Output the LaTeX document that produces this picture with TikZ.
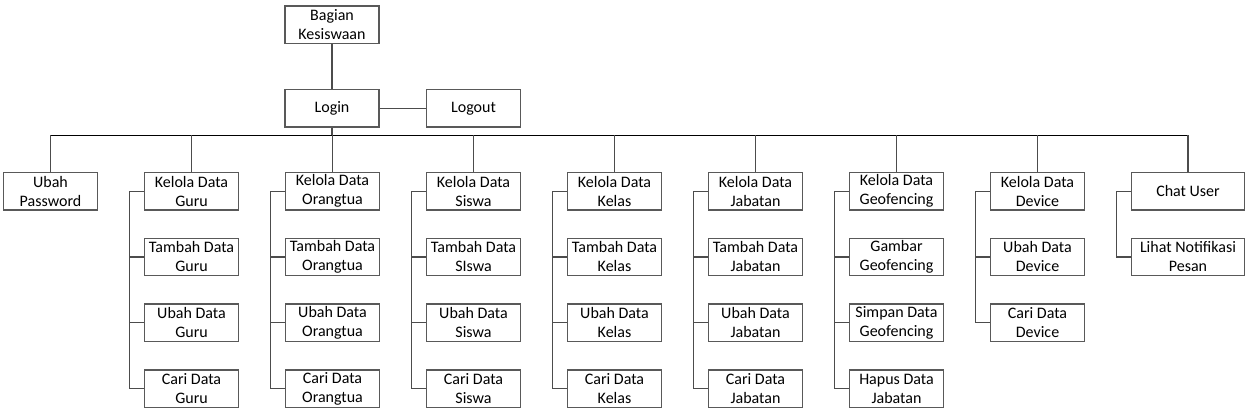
\documentclass[tikz,border=0pt]{standalone}
\usepackage{fontspec}
\setmainfont{Carlito}
\tikzset{every picture/.style={line width=0.75pt}}
\tikzset{
  menubox/.style={draw=black!65, line width=1pt, fill=white, minimum width=70.5pt, minimum height=28pt, inner sep=1pt, align=center, font=\fontsize{12}{14.25}\selectfont},
  widebox/.style={menubox, minimum width=85pt},
  link/.style={draw=black!70, line width=0.9pt},
  busline/.style={draw=black, line width=1.4pt}
}

\begin{document}
\begin{tikzpicture}[x=0.75pt,y=0.75pt,yscale=-1,xscale=1]
			\useasboundingbox (0,0) rectangle (1251,416);
			
			%Top level
			\node [menubox] (bagian) at (332,24.8) {Bagian\\Kesiswaan};
			\node [menubox] (login) at (332,108.5) {Login};
			\node [menubox] (logout) at (473.5,108.5) {Logout};
			
			%Bus
			\coordinate (busL) at (50.5,135.5);
			\coordinate (busR) at (1188,135.5);
			
			%Level one
			\node [menubox] (ubahpass) at (50.5,191.2) {Ubah\\Password};
			\node [menubox] (guru) at (191.5,191.2) {Kelola Data\\Guru};
			\node [menubox] (ortu) at (332.5,191.2) {Kelola Data\\Orangtua};
			\node [menubox] (siswa) at (473.5,191.2) {Kelola Data\\Siswa};
			\node [menubox] (kelas) at (614.5,191.2) {Kelola Data\\Kelas};
			\node [menubox] (jabatan) at (755.5,191.2) {Kelola Data\\Jabatan};
			\node [menubox] (geo) at (896.5,191.2) {Kelola Data\\Geofencing};
			\node [menubox] (device) at (1037.5,191.2) {Kelola Data\\Device};
			\node [widebox] (chat) at (1188,191.2) {Chat User};
			
			%Guru
			\node [menubox] (guruT) at (191.5,257) {Tambah Data\\Guru};
			\node [menubox] (guruU) at (191.5,322.8) {Ubah Data\\Guru};
			\node [menubox] (guruC) at (191.5,388.6) {Cari Data\\Guru};
			
			%Orangtua
			\node [menubox] (ortuT) at (332.5,257) {Tambah Data\\Orangtua};
			\node [menubox] (ortuU) at (332.5,322.8) {Ubah Data\\Orangtua};
			\node [menubox] (ortuC) at (332.5,388.6) {Cari Data\\Orangtua};
			
			%Siswa
			\node [menubox] (siswaT) at (473.5,257) {Tambah Data\\SIswa};
			\node [menubox] (siswaU) at (473.5,322.8) {Ubah Data\\Siswa};
			\node [menubox] (siswaC) at (473.5,388.6) {Cari Data\\Siswa};
			
			%Kelas
			\node [menubox] (kelasT) at (614.5,257) {Tambah Data\\Kelas};
			\node [menubox] (kelasU) at (614.5,322.8) {Ubah Data\\Kelas};
			\node [menubox] (kelasC) at (614.5,388.6) {Cari Data\\Kelas};
			
			%Jabatan
			\node [menubox] (jabatanT) at (755.5,257) {Tambah Data\\Jabatan};
			\node [menubox] (jabatanU) at (755.5,322.8) {Ubah Data\\Jabatan};
			\node [menubox] (jabatanC) at (755.5,388.6) {Cari Data\\Jabatan};
			
			%Geofencing
			\node [menubox] (geoG) at (896.5,257) {Gambar\\Geofencing};
			\node [menubox] (geoS) at (896.5,322.8) {Simpan Data\\Geofencing};
			\node [menubox] (geoH) at (896.5,388.6) {Hapus Data\\Jabatan};
			
			%Device
			\node [menubox] (deviceU) at (1037.5,257) {Ubah Data\\Device};
			\node [menubox] (deviceC) at (1037.5,322.8) {Cari Data\\Device};
			
			%Chat
			\node [widebox] (chatL) at (1188,257) {Lihat Notifikasi\\Pesan};
			
			%Top links
			\draw [link] (bagian) -- (login);
			\draw [link] (login) -- (logout);
			\draw [link] (login.south) -- (login.south |- busL);
			\draw [busline] (busL) -- (busR);
			
			%Drops to level one
			\foreach \n in {ubahpass,guru,ortu,siswa,kelas,jabatan,geo,device,chat}
			  \draw [link] (\n.north |- busL) -- (\n.north);
			
			%Spines
			\foreach \p/\a/\b/\c in {guru/guruT/guruU/guruC,ortu/ortuT/ortuU/ortuC,siswa/siswaT/siswaU/siswaC,kelas/kelasT/kelasU/kelasC,jabatan/jabatanT/jabatanU/jabatanC,geo/geoG/geoS/geoH}
			  \draw [link] (\p.west) -- ++(-14,0) |- (\c.west)
			               (\p.west) ++(-14,0) |- (\a.west)
			               (\p.west) ++(-14,0) |- (\b.west);
			\draw [link] (device.west) -- ++(-14,0) |- (deviceC.west)
			             (device.west) ++(-14,0) |- (deviceU.west);
			\draw [link] (chat.west) -- ++(-14,0) |- (chatL.west);
			
\end{tikzpicture}
\end{document}
